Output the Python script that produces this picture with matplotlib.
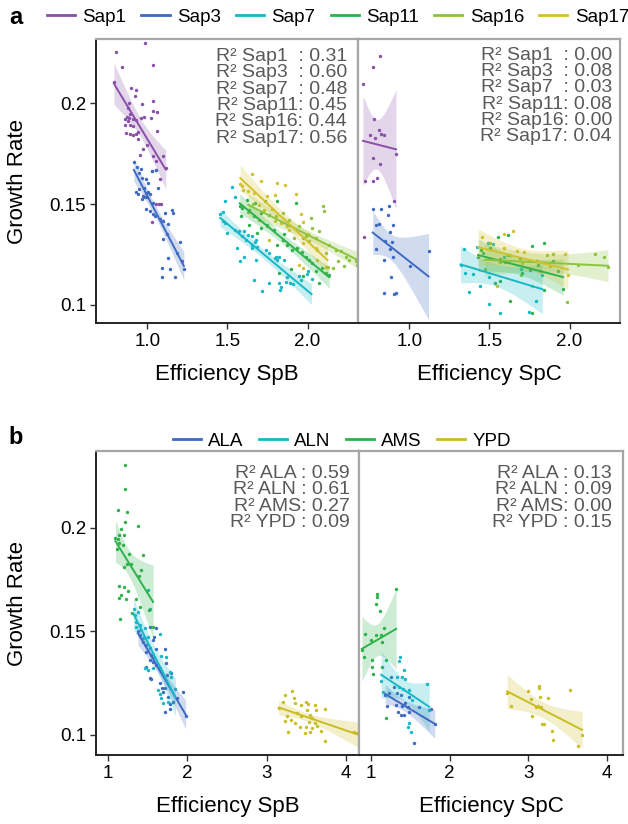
import numpy as np
import matplotlib.pyplot as plt
from matplotlib.lines import Line2D

plt.rcParams['font.family'] = ['Liberation Sans', 'DejaVu Sans']

# ---------------- panel a : saponin strains ----------------
sap_names = ['Sap1', 'Sap3', 'Sap7', 'Sap11', 'Sap16', 'Sap17']
sap_colors = ['#8a50a8', '#3f6ac2', '#17b8c6', '#2fb14c', '#8cc43e', '#d2c12c']
r2_a_spb = [0.31, 0.60, 0.48, 0.45, 0.44, 0.56]
r2_a_spc = [0.00, 0.08, 0.03, 0.08, 0.00, 0.04]

sap1_spb_x = [0.985, 0.802, 0.844, 1.037, 0.900, 0.929, 0.921, 0.887, 1.037, 0.966, 0.881, 1.033, 1.058,
              0.892, 0.871, 0.858, 0.883, 0.908, 0.960, 0.979, 1.021, 0.929, 0.877, 0.892, 0.912, 0.858,
              1.058, 0.940, 0.869, 0.892, 0.912, 0.927, 0.942, 0.996, 0.975, 0.954, 1.037, 1.096, 1.054,
              1.027, 1.056, 1.079, 1.071, 1.056, 1.087, 1.027, 0.792, 1.115]
sap1_spb_y = [0.2300, 0.2254, 0.2179, 0.2191, 0.2075, 0.2068, 0.2036, 0.2003, 0.2011, 0.1996, 0.1979, 0.1964,
              0.1957, 0.1947, 0.1935, 0.1925, 0.1930, 0.1925, 0.1927, 0.1934, 0.1930, 0.1917, 0.1914, 0.1894,
              0.1889, 0.1894, 0.1864, 0.1856, 0.1854, 0.1847, 0.1842, 0.1850, 0.1822, 0.1794, 0.1773, 0.1745,
              0.1740, 0.1740, 0.1715, 0.1665, 0.1668, 0.1623, 0.1499, 0.1499, 0.1499, 0.1413, 0.2105, 0.1680]

sap3_spb_x = [0.916, 0.933, 0.958, 0.946, 1.027, 1.054, 0.964, 0.991, 1.006, 0.979, 0.950, 0.929, 0.944,
              0.989, 1.006, 0.975, 0.985, 0.996, 1.016, 0.964, 1.033, 0.991, 1.069, 1.016, 1.038, 1.048,
              1.110, 1.152, 1.158, 1.079, 1.100, 1.131, 1.121, 1.100, 1.204, 1.183, 1.131, 1.214, 1.094,
              1.141, 1.089, 1.173, 1.228]
sap3_spb_y = [0.1711, 0.1685, 0.1677, 0.1657, 0.1665, 0.1668, 0.1632, 0.1623, 0.1603, 0.1579, 0.1574, 0.1562,
              0.1552, 0.1557, 0.1562, 0.1541, 0.1536, 0.1536, 0.1549, 0.1524, 0.1507, 0.1474, 0.1579, 0.1466,
              0.1449, 0.1441, 0.1458, 0.1471, 0.1454, 0.1424, 0.1416, 0.1400, 0.1350, 0.1325, 0.1313, 0.1259,
              0.1234, 0.1220, 0.1184, 0.1176, 0.1138, 0.1138, 0.1180]

sap7_spb_x = [1.531, 1.485, 1.546, 1.473, 1.485, 1.500, 1.548, 1.573, 1.594, 1.604, 1.619, 1.631, 1.652,
              1.673, 1.677, 1.652, 1.687, 1.562, 1.606, 1.581, 1.656, 1.681, 1.740, 1.760, 1.798, 1.823,
              1.854, 1.667, 1.760, 1.719, 1.823, 1.833, 1.827, 1.865, 1.890, 1.910, 1.875, 1.948, 1.994,
              1.958, 1.802, 1.812, 1.455, 1.470, 2.025, 2.000]
sap7_spb_y = [0.1586, 0.1514, 0.1536, 0.1414, 0.1406, 0.1357, 0.1373, 0.1365, 0.1340, 0.1365, 0.1323, 0.1348,
              0.1340, 0.1310, 0.1323, 0.1298, 0.1287, 0.1282, 0.1240, 0.1220, 0.1282, 0.1224, 0.1273, 0.1257,
              0.1232, 0.1240, 0.1224, 0.1124, 0.1111, 0.1070, 0.1108, 0.1091, 0.1075, 0.1116, 0.1108, 0.1104,
              0.1138, 0.1141, 0.1152, 0.1124, 0.1240, 0.1224, 0.1452, 0.1460, 0.1130, 0.1166]

sap11_spb_x = [1.577, 1.594, 1.635, 1.673, 1.708, 1.735, 1.812, 1.760, 1.667, 1.635, 1.687, 1.708, 1.750,
               1.792, 1.844, 1.854, 1.812, 1.875, 1.906, 1.937, 1.964, 1.990, 2.010, 2.031, 2.090, 2.114,
               2.052, 1.927, 1.823, 1.969, 2.135, 1.585, 1.620, 2.070, 1.900]
sap11_spb_y = [0.1489, 0.1481, 0.1473, 0.1506, 0.1456, 0.1514, 0.1514, 0.1448, 0.1439, 0.1398, 0.1357, 0.1382,
               0.1398, 0.1373, 0.1323, 0.1353, 0.1298, 0.1298, 0.1274, 0.1282, 0.1261, 0.1240, 0.1224, 0.1207,
               0.1182, 0.1158, 0.1166, 0.1506, 0.1158, 0.1144, 0.1149, 0.1440, 0.1520, 0.1110, 0.1180]

sap16_spb_x = [2.094, 2.104, 2.021, 2.031, 2.073, 2.052, 1.990, 1.948, 1.885, 1.844, 1.802, 2.135, 2.177,
               2.208, 2.240, 2.260, 2.302, 2.229, 2.156, 2.188, 2.114, 2.062, 2.010, 1.969, 1.917, 1.630,
               1.700, 1.660, 1.750, 2.310]
sap16_spb_y = [0.1489, 0.1465, 0.1431, 0.1382, 0.1365, 0.1332, 0.1340, 0.1390, 0.1423, 0.1456, 0.1439, 0.1298,
               0.1274, 0.1265, 0.1240, 0.1224, 0.1216, 0.1191, 0.1182, 0.1216, 0.1257, 0.1274, 0.1315, 0.1332,
               0.1332, 0.1460, 0.1420, 0.1500, 0.1390, 0.1200]

sap17_spb_x = [1.656, 1.708, 1.812, 1.858, 1.594, 1.631, 1.667, 1.744, 1.798, 1.927, 1.698, 1.729, 1.781,
               1.798, 1.833, 1.869, 1.885, 1.760, 1.958, 1.973, 2.000, 1.973, 1.944, 1.973, 2.062, 2.114,
               2.052, 1.580, 1.600, 2.125]
sap17_spb_y = [0.1652, 0.1613, 0.1605, 0.1597, 0.1589, 0.1564, 0.1556, 0.1543, 0.1547, 0.1551, 0.1498, 0.1473,
               0.1477, 0.1414, 0.1406, 0.1390, 0.1370, 0.1323, 0.1453, 0.1410, 0.1353, 0.1307, 0.1199, 0.1182,
               0.1224, 0.1188, 0.1282, 0.1600, 0.1570, 0.1190]

sap1_spc_x = [0.815, 0.773, 0.711, 0.777, 0.809, 0.823, 0.840, 0.756, 0.788, 0.917, 0.773, 0.815, 0.725,
              0.771, 0.798, 0.906, 0.719]
sap1_spc_y = [0.2235, 0.2181, 0.2095, 0.1925, 0.1866, 0.1849, 0.1841, 0.1842, 0.1829, 0.1751, 0.1731, 0.1697,
              0.1617, 0.1617, 0.1629, 0.1514, 0.1335]

sap3_spc_x = [0.772, 0.823, 0.875, 0.865, 0.794, 0.813, 0.896, 0.877, 0.850, 0.892, 0.881, 0.794, 0.896,
              0.844, 1.006, 1.120, 0.888, 0.840, 0.906, 0.919]
sap3_spc_y = [0.1476, 0.1476, 0.1493, 0.1444, 0.1398, 0.1401, 0.1398, 0.1362, 0.1315, 0.1311, 0.1277, 0.1278,
              0.1237, 0.1224, 0.1191, 0.1269, 0.1138, 0.1058, 0.1056, 0.1058]

sap7_spc_x = [1.342, 1.421, 1.494, 1.525, 1.348, 1.400, 1.500, 1.442, 1.373, 1.500, 1.567, 1.588, 1.598,
              1.320, 1.830, 1.750, 1.790, 1.700]
sap7_spc_y = [0.1279, 0.1287, 0.1307, 0.1304, 0.1158, 0.1154, 0.1136, 0.1096, 0.1063, 0.1005, 0.0959, 0.1240,
              0.1215, 0.1200, 0.1150, 0.0965, 0.1020, 0.1180]

sap11_spc_x = [1.556, 1.619, 1.448, 1.463, 1.504, 1.567, 1.619, 1.692, 1.765, 1.842, 1.702, 1.754, 1.806,
               1.900, 1.931, 1.536, 1.567, 1.842, 1.629, 1.765, 1.430, 1.960]
sap11_spc_y = [0.1337, 0.1345, 0.1274, 0.1257, 0.1282, 0.1227, 0.1249, 0.1232, 0.1290, 0.1307, 0.1158, 0.1174,
               0.1199, 0.1216, 0.1166, 0.1111, 0.1119, 0.1075, 0.1021, 0.0959, 0.1240, 0.1080]

sap16_spc_x = [2.161, 2.213, 1.859, 1.900, 1.984, 1.567, 1.504, 1.629, 1.470, 2.240, 1.700, 2.050, 1.800]
sap16_spc_y = [0.1254, 0.1237, 0.1249, 0.1254, 0.1016, 0.1215, 0.1307, 0.1249, 0.1180, 0.1190, 0.1150, 0.1200,
               0.1220]

sap17_spc_x = [1.452, 1.588, 1.650, 1.588, 1.717, 1.671, 1.702, 1.546, 1.973, 1.879, 1.817, 1.765, 1.430,
               1.990]
sap17_spc_y = [0.1337, 0.1353, 0.1365, 0.1282, 0.1262, 0.1265, 0.1208, 0.1095, 0.1254, 0.1191, 0.1166, 0.1092,
               0.1250, 0.1150]

# ---------------- panel b : media ----------------
media_names = ['ALA', 'ALN', 'AMS', 'YPD']
media_colors = ['#3f6ac2', '#17b8c6', '#2fb14c', '#c9bd22']
r2_b_spb = [0.59, 0.61, 0.27, 0.09]
r2_b_spc = [0.13, 0.09, 0.00, 0.15]

ala_spb_x = [1.527, 1.603, 1.586, 1.569, 1.401, 1.443, 1.485, 1.527, 1.603, 1.717, 1.485, 1.548, 1.527,
             1.569, 1.611, 1.654, 1.485, 1.527, 1.548, 1.738, 1.801, 1.746, 1.687, 1.717, 1.654, 1.696,
             1.759, 1.788, 1.822, 1.717, 1.788, 1.949, 1.865, 1.980, 1.380]
ala_spb_y = [0.1521, 0.1513, 0.1473, 0.1457, 0.1481, 0.1448, 0.1432, 0.1419, 0.1416, 0.1412, 0.1400, 0.1384,
             0.1360, 0.1352, 0.1336, 0.1320, 0.1328, 0.1275, 0.1268, 0.1344, 0.1300, 0.1288, 0.1224, 0.1224,
             0.1248, 0.1204, 0.1183, 0.1147, 0.1159, 0.1111, 0.1124, 0.1204, 0.1175, 0.1090, 0.1500]

aln_spb_x = [1.506, 1.527, 1.324, 1.379, 1.337, 1.358, 1.358, 1.401, 1.422, 1.464, 1.443, 1.506, 1.654,
             1.675, 1.738, 1.464, 1.506, 1.569, 1.788, 1.801, 1.633, 1.654, 1.675, 1.696, 1.759, 1.577,
             1.850]
aln_spb_y = [0.1698, 0.1609, 0.1609, 0.1593, 0.1577, 0.1545, 0.1521, 0.1529, 0.1505, 0.1513, 0.1468, 0.1473,
             0.1484, 0.1381, 0.1373, 0.1320, 0.1312, 0.1320, 0.1304, 0.1280, 0.1216, 0.1195, 0.1175, 0.1151,
             0.1159, 0.1376, 0.1220]

ams_spb_x = [1.223, 1.214, 1.126, 1.240, 1.219, 1.379, 1.168, 1.139, 1.198, 1.126, 1.147, 1.189, 1.113,
             1.265, 1.443, 1.240, 1.295, 1.210, 1.422, 1.392, 1.139, 1.210, 1.253, 1.168, 1.147, 1.232,
             1.358, 1.308, 1.156, 1.400, 1.570, 1.520, 1.097]
ams_spb_y = [0.2300, 0.2188, 0.2087, 0.2075, 0.2027, 0.2006, 0.1992, 0.1963, 0.1963, 0.1947, 0.1928, 0.1915,
             0.1899, 0.1875, 0.1867, 0.1826, 0.1826, 0.1810, 0.1797, 0.1767, 0.1718, 0.1714, 0.1694, 0.1677,
             0.1661, 0.1653, 0.1655, 0.1590, 0.1558, 0.1616, 0.1520, 0.1600, 0.1950]

ypd_spb_x = [3.320, 3.232, 3.337, 3.203, 3.350, 3.434, 3.489, 3.519, 3.603, 3.510, 3.383, 3.434, 3.257,
             3.308, 3.232, 3.350, 3.540, 3.569, 3.624, 3.730, 3.527, 3.603, 3.498, 3.569, 3.637, 3.413,
             3.270, 3.476, 3.730, 3.540, 3.688, 4.093, 3.150, 4.140]
ypd_spb_y = [0.1211, 0.1191, 0.1175, 0.1159, 0.1154, 0.1143, 0.1159, 0.1148, 0.1143, 0.1119, 0.1103, 0.1090,
             0.1090, 0.1071, 0.1066, 0.1055, 0.1095, 0.1082, 0.1119, 0.1122, 0.1063, 0.1058, 0.1039, 0.1031,
             0.1042, 0.1039, 0.1015, 0.1007, 0.0971, 0.1013, 0.1018, 0.1015, 0.1130, 0.1010]

ala_spc_x = [1.249, 1.291, 1.228, 1.333, 1.375, 1.481, 1.430, 1.207, 1.312, 1.388, 1.473, 1.608, 1.768,
             1.346, 1.481, 1.418, 1.375, 1.544, 1.180, 1.810]
ala_spc_y = [0.1280, 0.1231, 0.1199, 0.1199, 0.1191, 0.1183, 0.1151, 0.1138, 0.1143, 0.1138, 0.1135, 0.1135,
             0.1122, 0.1111, 0.1111, 0.1095, 0.1095, 0.0959, 0.1190, 0.1050]

aln_spc_x = [1.363, 1.354, 1.418, 1.333, 1.388, 1.426, 1.152, 1.354, 1.405, 1.489, 1.713, 1.523, 1.481,
             1.473, 1.502, 1.130, 1.740]
aln_spc_y = [0.1376, 0.1357, 0.1312, 0.1280, 0.1277, 0.1267, 0.1207, 0.1231, 0.1223, 0.1215, 0.1247, 0.1167,
             0.1055, 0.1036, 0.1015, 0.1260, 0.1120]

ams_spc_x = [1.320, 1.080, 1.080, 1.059, 1.110, 1.165, 0.924, 1.059, 1.122, 0.996, 1.135, 0.911, 1.008,
             1.194, 1.017, 1.135, 1.025, 1.194, 0.885]
ams_spc_y = [0.1706, 0.1678, 0.1665, 0.1629, 0.1598, 0.1513, 0.1486, 0.1481, 0.1481, 0.1457, 0.1449, 0.1376,
             0.1363, 0.1360, 0.1325, 0.1325, 0.1293, 0.1082, 0.1410]

ypd_spc_x = [3.000, 3.131, 3.139, 3.253, 3.152, 3.034, 3.532, 2.772, 3.097, 3.118, 3.160, 3.042, 3.173,
             3.194, 3.300, 3.308, 3.624, 2.730, 3.680]
ypd_spc_y = [0.1212, 0.1236, 0.1227, 0.1176, 0.1183, 0.1171, 0.1217, 0.1138, 0.1135, 0.1138, 0.1135, 0.1090,
             0.1052, 0.1050, 0.1019, 0.0974, 0.0946, 0.1200, 0.1000]

# names as printed in the R² boxes (padded so the lines start flush)
r2_labels_a = ['Sap1  ', 'Sap3  ', 'Sap7  ', 'Sap11', 'Sap16', 'Sap17']
r2_labels_b = ['ALA ', 'ALN ', 'AMS', 'YPD ']


def reg_band(ax, x, y, color):
    # linear fit with 95% confidence band, like geom_smooth(method='lm')
    x = np.asarray(x)
    y = np.asarray(y)
    n = len(x)
    slope, icpt = np.polyfit(x, y, 1)
    xs = np.linspace(x.min(), x.max(), 100)
    fit = icpt + slope * xs
    resid = y - (icpt + slope * x)
    s = np.sqrt(np.sum(resid ** 2) / (n - 2))
    sxx = np.sum((x - x.mean()) ** 2)
    se = s * np.sqrt(1.0 / n + (xs - x.mean()) ** 2 / sxx)
    t = 1.96 + 2.4 / (n - 2)
    ax.fill_between(xs, fit - t * se, fit + t * se, color=color, alpha=0.24, lw=0, zorder=3)
    ax.plot(xs, fit, color=color, lw=1.4, zorder=4)


def style_axes(ax, left_panel):
    for side in ['top', 'right']:
        ax.spines[side].set_color('#a6a6a6')
        ax.spines[side].set_linewidth(1.6)
    ax.spines['bottom'].set_color('#222222')
    ax.spines['bottom'].set_linewidth(1.4)
    if left_panel:
        ax.spines['left'].set_color('#222222')
        ax.spines['left'].set_linewidth(1.4)
    else:
        ax.spines['left'].set_color('#a6a6a6')
        ax.spines['left'].set_linewidth(1.6)
        ax.tick_params(axis='y', left=False, labelleft=False)
    ax.tick_params(labelsize=13.5, length=4, width=1, color='#333333', pad=3)


fig = plt.figure(figsize=(6.28, 8.24), dpi=100)
W, H = 628.0, 824.0


def add_ax(x0, x1, y0, y1):
    return fig.add_axes([x0 / W, 1 - y1 / H, (x1 - x0) / W, (y1 - y0) / H])


ax_a1 = add_ax(96, 358, 39, 323)
ax_a2 = add_ax(358, 620, 39, 323)
ax_b1 = add_ax(96, 359, 451, 755)
ax_b2 = add_ax(359, 623, 451, 755)

a_spb = [(sap1_spb_x, sap1_spb_y), (sap3_spb_x, sap3_spb_y), (sap7_spb_x, sap7_spb_y),
         (sap11_spb_x, sap11_spb_y), (sap16_spb_x, sap16_spb_y), (sap17_spb_x, sap17_spb_y)]
a_spc = [(sap1_spc_x, sap1_spc_y), (sap3_spc_x, sap3_spc_y), (sap7_spc_x, sap7_spc_y),
         (sap11_spc_x, sap11_spc_y), (sap16_spc_x, sap16_spc_y), (sap17_spc_x, sap17_spc_y)]
b_spb = [(ala_spb_x, ala_spb_y), (aln_spb_x, aln_spb_y), (ams_spb_x, ams_spb_y), (ypd_spb_x, ypd_spb_y)]
b_spc = [(ala_spc_x, ala_spc_y), (aln_spc_x, aln_spc_y), (ams_spc_x, ams_spc_y), (ypd_spc_x, ypd_spc_y)]

for ax, groups, colors in [(ax_a1, a_spb, sap_colors), (ax_a2, a_spc, sap_colors),
                           (ax_b1, b_spb, media_colors), (ax_b2, b_spc, media_colors)]:
    for (gx, gy), c in zip(groups, colors):
        ax.scatter(gx, gy, s=6, color=c, lw=0, zorder=2)
        reg_band(ax, gx, gy, c)

for ax in [ax_a1, ax_a2]:
    ax.set_xlim(0.68, 2.315)
    ax.set_ylim(0.091, 0.232)
    ax.set_xticks([1.0, 1.5, 2.0])
    ax.set_xticklabels(['1.0', '1.5', '2.0'])
for ax in [ax_b1, ax_b2]:
    ax.set_ylim(0.0902, 0.237)
    ax.set_xticks([1, 2, 3, 4])
ax_b1.set_xlim(0.852, 4.16)
ax_b2.set_xlim(0.848, 4.2)

for ax in [ax_a1, ax_b1]:
    ax.set_yticks([0.1, 0.15, 0.2])
    ax.set_yticklabels(['0.1', '0.15', '0.2'])

style_axes(ax_a1, True)
style_axes(ax_a2, False)
style_axes(ax_b1, True)
style_axes(ax_b2, False)

for ax, lab in [(ax_a1, 'Efficiency SpB'), (ax_a2, 'Efficiency SpC'),
                (ax_b1, 'Efficiency SpB'), (ax_b2, 'Efficiency SpC')]:
    ax.set_xlabel(lab, fontsize=16, labelpad=10)

fig.text(18 / W, 1 - 181 / H, 'Growth Rate', rotation=90, fontsize=16, ha='center', va='center')
fig.text(18 / W, 1 - 603 / H, 'Growth Rate', rotation=90, fontsize=16, ha='center', va='center')


def r2_text(labels, vals):
    return '\n'.join('R\u00b2 ' + n + ': %.2f' % v for n, v in zip(labels, vals))


r2_kw = dict(ha='right', va='top', fontsize=14, color='#595959', linespacing=0.95, multialignment='right')
ax_a1.text(0.958, 0.968, r2_text(r2_labels_a, r2_a_spb), transform=ax_a1.transAxes, **r2_kw)
ax_a2.text(0.969, 0.973, r2_text(r2_labels_a, r2_a_spc), transform=ax_a2.transAxes, **r2_kw)
ax_b1.text(0.966, 0.954, r2_text(r2_labels_b, r2_b_spb), transform=ax_b1.transAxes, **r2_kw)
ax_b2.text(0.959, 0.954, r2_text(r2_labels_b, r2_b_spc), transform=ax_b2.transAxes, **r2_kw)

handles_a = [Line2D([], [], color=c, lw=2) for c in sap_colors]
fig.legend(handles_a, sap_names, loc='center', bbox_to_anchor=(338 / W, 1 - 17 / H), ncol=6, frameon=False,
           fontsize=13.5, handlelength=1.5, handletextpad=0.4, columnspacing=0.8)
handles_b = [Line2D([], [], color=c, lw=2) for c in media_colors]
fig.legend(handles_b, media_names, loc='center', bbox_to_anchor=(342 / W, 1 - 441 / H), ncol=4, frameon=False,
           fontsize=13.5, handlelength=1.5, handletextpad=0.4, columnspacing=0.8)

fig.text(16 / W, 1 - 17 / H, 'a', fontsize=17, fontweight='bold', ha='center', va='center')
fig.text(16 / W, 1 - 437 / H, 'b', fontsize=17, fontweight='bold', ha='center', va='center')

fig.savefig('out.png', dpi=100)
